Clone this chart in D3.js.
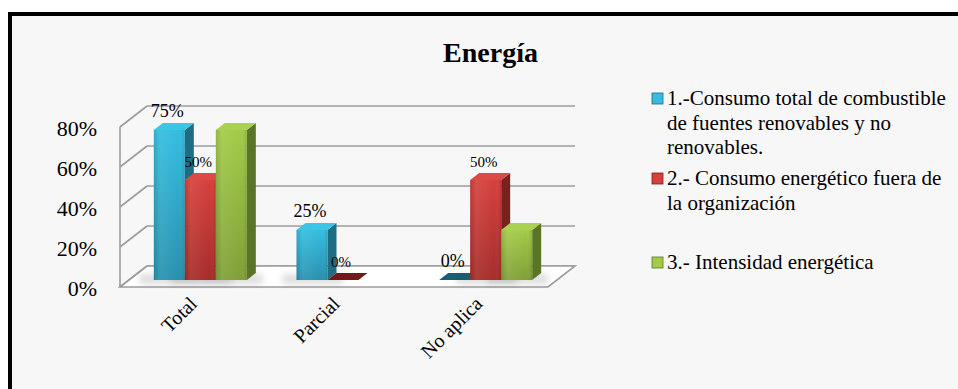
<!DOCTYPE html>
<html>
<head>
<meta charset="utf-8">
<script src="https://cdn.jsdelivr.net/npm/d3@7"></script>
<style>
  html, body { margin: 0; padding: 0; background: #ffffff; }
  svg { display: block; }
  text { font-family: "Liberation Serif", "Times New Roman", serif; fill: #000; }
</style>
</head>
<body>
<svg id="chart" width="958" height="389"></svg>
<script>
// ---- data ----
const categories = ["Total", "Parcial", "No aplica"];
const seriesNames = [
  "1.-Consumo total de combustible de fuentes renovables y no renovables.",
  "2.- Consumo energético fuera de la organización",
  "3.- Intensidad energética"
];
const seriesLegendLines = [
  ["1.-Consumo total de combustible", "de fuentes renovables y no", "renovables."],
  ["2.- Consumo energético fuera de", "la organización"],
  ["3.- Intensidad energética"]
];
const consumoTotal   = [0.75, 0.25, 0.00];
const consumoFuera   = [0.50, 0.00, 0.50];
const intensidad     = [0.75, null, 0.25];
const seriesValues = [consumoTotal, consumoFuera, intensidad];
const showLabels = [true, true, false];
const yTicks = [0, 0.2, 0.4, 0.6, 0.8];
const title = "Energía";

// ---- palette per series: front gradient, top, side, flat (zero) ----
const palette = [
  { front: ["#34bde0", "#2890ae"], top: "#3cc6e6", side: "#1d6d84", flat: "#1b5d70" },
  { front: ["#d6403c", "#a52c29"], top: "#dc4a45", side: "#7a201e", flat: "#6e1b1a" },
  { front: ["#a2cb48", "#7f9f36"], top: "#a9d152", side: "#5a7527", flat: "#506a22" }
];

const svg = d3.select("#chart");
const W = 958, H = 389;

// frame
svg.append("rect").attr("x", 10).attr("y", 14).attr("width", W + 20).attr("height", H + 20)
  .attr("fill", "#f7f7f7").attr("stroke", "#000").attr("stroke-width", 4);

// ---- 3D geometry ----
const depthX = 27, depthY = -21;            // full floor depth offset
const x0 = d3.scaleBand().domain(categories).range([120, 548])
  .paddingInner(0.348).paddingOuter(0.174);
const x1 = d3.scaleBand().domain(d3.range(seriesValues.length)).range([0, x0.bandwidth()]);
const y = d3.scaleLinear().domain([0, 0.8]).range([287, 127]);
const barFront = 1 / 3, barBack = 2 / 3;    // bars sit in middle third of depth

const defs = svg.append("defs");
palette.forEach((p, i) => {
  const g = defs.append("linearGradient").attr("id", "gf" + i)
    .attr("x1", 0).attr("y1", 0).attr("x2", 0).attr("y2", 1);
  g.append("stop").attr("offset", "0%").attr("stop-color", p.front[0]);
  g.append("stop").attr("offset", "100%").attr("stop-color", p.front[1]);
  const h = defs.append("linearGradient").attr("id", "gh" + i)
    .attr("x1", 0).attr("y1", 0).attr("x2", 1).attr("y2", 0);
  h.append("stop").attr("offset", "0%").attr("stop-color", "#000").attr("stop-opacity", 0.10);
  h.append("stop").attr("offset", "20%").attr("stop-color", "#fff").attr("stop-opacity", 0.08);
  h.append("stop").attr("offset", "80%").attr("stop-color", "#fff").attr("stop-opacity", 0.0);
  h.append("stop").attr("offset", "100%").attr("stop-color", "#000").attr("stop-opacity", 0.12);
});
defs.append("filter").attr("id", "blur").attr("x", "-50%").attr("y", "-50%")
  .attr("width", "200%").attr("height", "200%")
  .append("feGaussianBlur").attr("stdDeviation", 3);

const gridColor = "#9c9c9c";
const grid = svg.append("g");
const [xl, xr] = x0.range();

// back-wall gridlines and left-wall diagonals
yTicks.forEach(t => {
  const yy = y(t);
  grid.append("line").attr("x1", xl + depthX).attr("x2", xr + depthX)
    .attr("y1", yy + depthY).attr("y2", yy + depthY)
    .attr("stroke", gridColor).attr("stroke-width", 1.6);
  grid.append("line").attr("x1", xl).attr("x2", xl + depthX)
    .attr("y1", yy).attr("y2", yy + depthY)
    .attr("stroke", gridColor).attr("stroke-width", 1.6);
});

// floor
const y0 = y(0);
grid.append("path")
  .attr("d", `M${xl},${y0} L${xl + depthX},${y0 + depthY} L${xr + depthX},${y0 + depthY} L${xr},${y0} Z`)
  .attr("fill", "#ffffff").attr("stroke", gridColor).attr("stroke-width", 1.6);
// front vertical axis
grid.append("line").attr("x1", xl).attr("x2", xl).attr("y1", y(0.8)).attr("y2", y0)
  .attr("stroke", gridColor).attr("stroke-width", 1.6);

// y labels
svg.append("g").selectAll("text").data(yTicks).join("text")
  .attr("x", 97).attr("y", d => y(d) + 1).attr("dy", "0.35em")
  .attr("text-anchor", "end").style("font-size", "22px")
  .text(d => d3.format(".0%")(d));

// ---- bars ----
const fx = barFront * depthX, fy = barFront * depthY;
const bx = (barBack - barFront) * depthX, by = (barBack - barFront) * depthY;

const bars = [];
categories.forEach((c, ci) => {
  seriesValues.forEach((vals, si) => {
    const v = vals[ci];
    if (v === null || v === undefined) return;
    bars.push({ c, ci, si, v });
  });
});

const shadowG = svg.append("g").attr("filter", "url(#blur)");
bars.forEach(b => {
  if (b.v <= 0) return;
  const left = x0(b.c) + x1(b.si) + fx;
  shadowG.append("rect").attr("x", left - 14).attr("y", y0 + fy - 6)
    .attr("width", x1.bandwidth() + 30).attr("height", 10)
    .attr("fill", "#000").attr("opacity", 0.13);
});

const barG = svg.append("g");
bars.forEach(b => {
  const p = palette[b.si];
  const L = x0(b.c) + x1(b.si) + fx;
  const R = L + x1.bandwidth();
  const T = y(b.v) + fy;
  const B = y0 + fy;
  const g = barG.append("g");
  if (b.v <= 0) {
    g.append("path")
      .attr("d", `M${L},${B} L${L + bx},${B + by} L${R + bx},${B + by} L${R},${B} Z`)
      .attr("fill", p.flat);
    return;
  }
  // side face
  g.append("path")
    .attr("d", `M${R},${T} L${R + bx},${T + by} L${R + bx},${B + by} L${R},${B} Z`)
    .attr("fill", p.side);
  // top face
  g.append("path")
    .attr("d", `M${L},${T} L${L + bx},${T + by} L${R + bx},${T + by} L${R},${T} Z`)
    .attr("fill", p.top);
  // front face
  g.append("rect").attr("x", L).attr("y", T).attr("width", R - L).attr("height", B - T)
    .attr("fill", `url(#gf${b.si})`);
  g.append("rect").attr("x", L).attr("y", T).attr("width", R - L).attr("height", B - T)
    .attr("fill", `url(#gh${b.si})`);
});

// value labels
const labelSizes = ["18px", "15px", "15px"];
svg.append("g").selectAll("text").data(bars.filter(b => showLabels[b.si])).join("text")
  .attr("x", b => x0(b.c) + x1(b.si) + fx + x1.bandwidth() / 2 - 2)
  .attr("y", b => y(b.v) + fy - 13)
  .attr("text-anchor", "middle")
  .style("font-size", b => labelSizes[b.si])
  .text(b => d3.format(".0%")(b.v));

// category labels
svg.append("g").selectAll("text").data(categories).join("text")
  .attr("transform", c => `translate(${x0(c) + x0.bandwidth() / 2 + 2},${y0 + 13}) rotate(-45)`)
  .attr("text-anchor", "end").attr("dy", "0.35em")
  .style("font-size", "20px")
  .text(c => c);

// title
svg.append("text").attr("x", 490.5).attr("y", 62).attr("text-anchor", "middle")
  .style("font-size", "28px").style("font-weight", "bold").text(title);

// ---- legend ----
const legendTop = [105, 185, 269];
const legend = svg.append("g");
seriesLegendLines.forEach((lines, i) => {
  const p = palette[i];
  const yb = legendTop[i];
  legend.append("rect").attr("x", 652).attr("y", yb - 12).attr("width", 11).attr("height", 11)
    .attr("fill", p.front[0]).attr("stroke", p.side).attr("stroke-width", 0.8);
  const t = legend.append("text").attr("x", 667).attr("y", yb).style("font-size", "21px");
  lines.forEach((ln, k) => {
    t.append("tspan").attr("x", 667).attr("dy", k === 0 ? 0 : 24.5).text(ln);
  });
});
</script>
</body>
</html>
